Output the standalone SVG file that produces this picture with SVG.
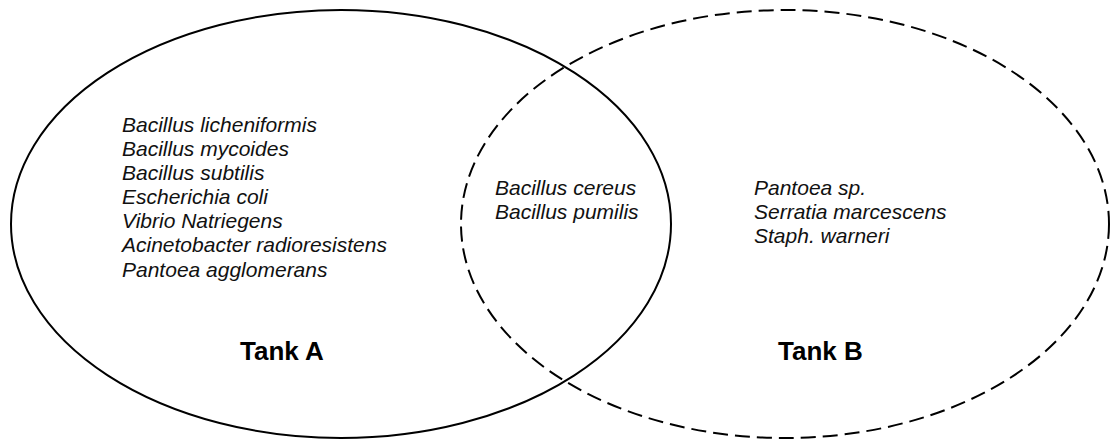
<svg xmlns="http://www.w3.org/2000/svg" width="1111" height="441" viewBox="0 0 1111 441">
<style>
.set{fill:none;stroke:#000;stroke-width:2}
.dash{stroke-dasharray:15 7}
.sp{font-family:"Liberation Sans",Arial,sans-serif;font-style:italic;font-size:21px;fill:#111}
.tank{font-family:"Liberation Sans",Arial,sans-serif;font-weight:bold;font-size:26px;fill:#000}
</style>
<rect width="1111" height="441" fill="#fff"/>
<g id="tankA">
<ellipse class="set" cx="341" cy="224" rx="330" ry="214"/>
<text class="sp"><tspan x="122" y="132">Bacillus licheniformis</tspan><tspan x="122" y="156">Bacillus mycoides</tspan><tspan x="122" y="180">Bacillus subtilis</tspan><tspan x="122" y="204">Escherichia coli</tspan><tspan x="122" y="228">Vibrio Natriegens</tspan><tspan x="122" y="252">Acinetobacter radioresistens</tspan><tspan x="122" y="277">Pantoea agglomerans</tspan></text>
<text class="tank" x="240" y="360">Tank A</text>
</g>
<g id="tankB">
<ellipse class="set dash" cx="785" cy="224" rx="324" ry="214"/>
<text class="sp"><tspan x="754" y="195">Pantoea sp.</tspan><tspan x="754" y="219">Serratia marcescens</tspan><tspan x="754" y="243">Staph. warneri</tspan></text>
<text class="tank" x="778" y="360">Tank B</text>
</g>
<g id="overlap">
<text class="sp"><tspan x="495" y="195">Bacillus cereus</tspan><tspan x="495" y="219">Bacillus pumilis</tspan></text>
</g>
<g id="connectors"/>
</svg>
